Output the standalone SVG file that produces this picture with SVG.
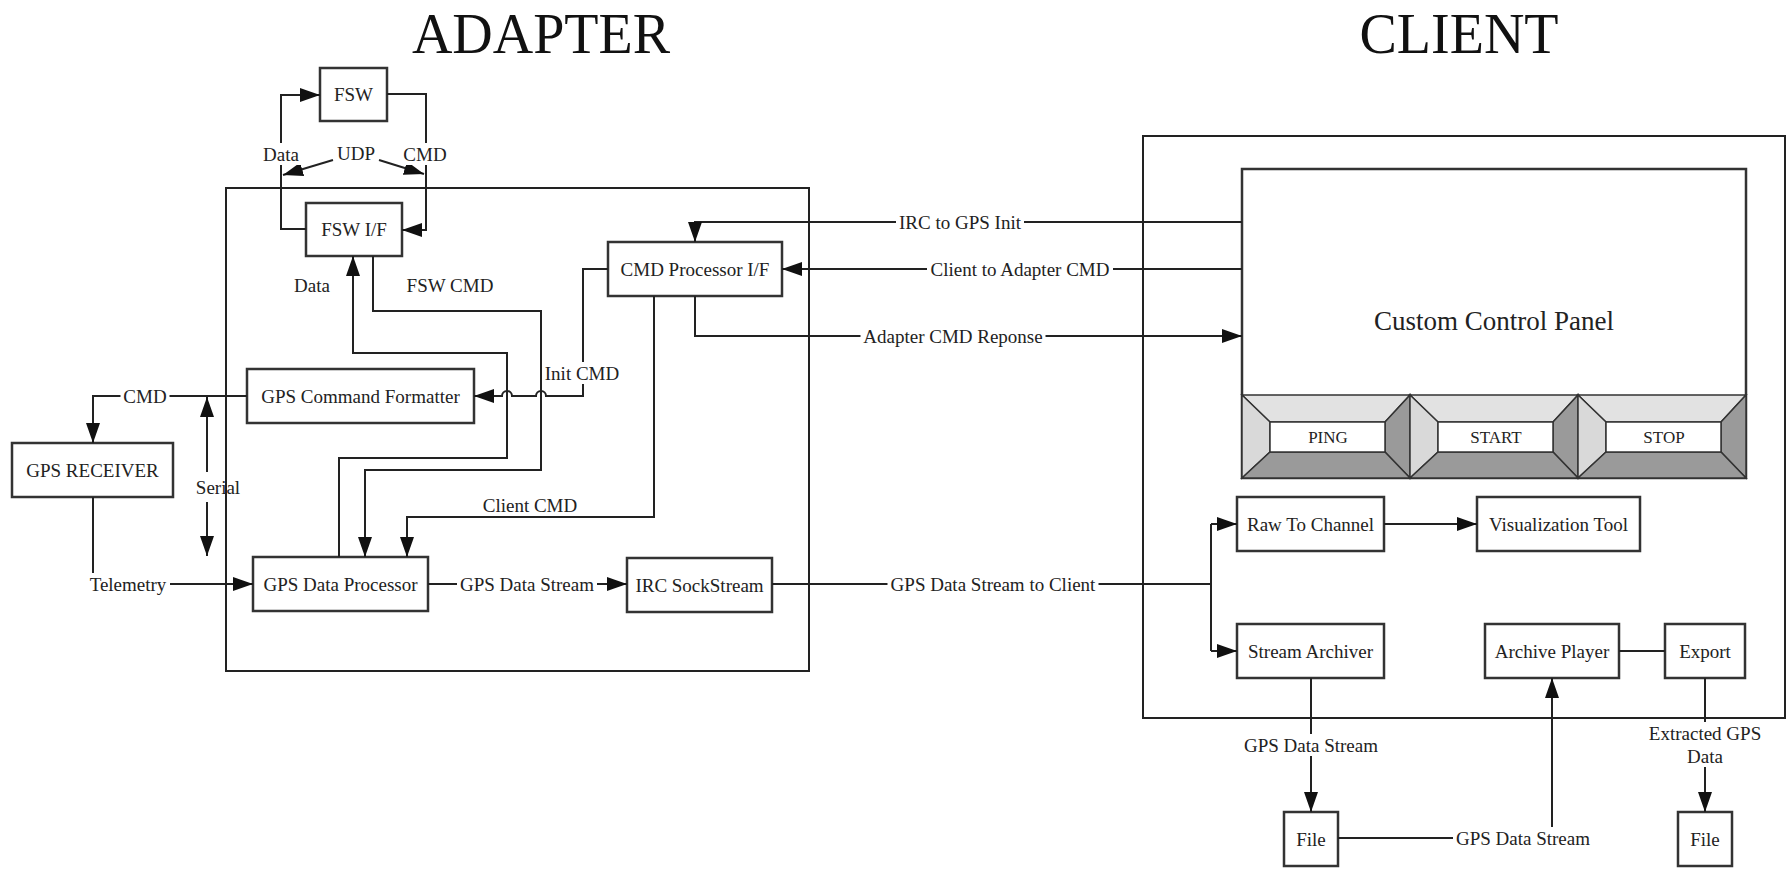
<svg xmlns="http://www.w3.org/2000/svg" xmlns:xlink="http://www.w3.org/1999/xlink" width="1787" height="874" viewBox="0 0 1787 874">
<style>
.box{fill:#fff;stroke:#333;stroke-width:2.5}
.frame{fill:none;stroke:#222;stroke-width:2}
.t{font-family:"Liberation Serif","Times New Roman",serif;font-size:19px;fill:#222;text-anchor:middle;dominant-baseline:central}
.title{font-family:"Liberation Serif","Times New Roman",serif;font-size:56px;fill:#111;text-anchor:middle}
.bg{fill:#fff;stroke:none}
.ln{fill:none;stroke:#222;stroke-width:2}
.arr{marker-end:url(#ah)}
.bv{stroke:#333;stroke-width:1.5}
.lt{fill:#e2e2e2}
.lt2{fill:#d9d9d9}
.dk{fill:#9a9a9a}
</style>
<defs>
<marker id="ah" markerUnits="userSpaceOnUse" viewBox="0 0 20 14" markerWidth="20" markerHeight="14" refX="20" refY="7" orient="auto-start-reverse">
<path d="M0,0 L20,7 L0,14 z" fill="#111"/>
</marker>
<g id="bevel">
<polygon class="bv lt" points="0,395 168,395 143,422 28,422"/>
<polygon class="bv lt2" points="0,395 28,422 28,452 0,478"/>
<polygon class="bv dk" points="168,395 168,478 143,452 143,422"/>
<polygon class="bv dk" points="0,478 168,478 143,452 28,452"/>
<rect x="28" y="422" width="115" height="30" fill="#fff" stroke="#333" stroke-width="1.5"/>
</g>
</defs>
<rect width="1787" height="874" fill="#fff"/>

<text class="title" x="541" y="53">ADAPTER</text>
<text class="title" x="1459" y="53">CLIENT</text>

<g id="adapter-frame"><rect class="frame" x="226" y="188" width="583" height="483"/></g>
<g id="client-frame"><rect class="frame" x="1143" y="136" width="642" height="582"/></g>

<g id="fsw"><rect class="box" x="320" y="68" width="67" height="53"/><text class="t" x="353.5" y="94.5">FSW</text></g>
<g id="fsw-if"><rect class="box" x="306" y="203" width="96" height="53"/><text class="t" x="354" y="229.5">FSW I/F</text></g>
<g id="cmd-proc"><rect class="box" x="608" y="242" width="174" height="54"/><text class="t" x="695" y="269">CMD Processor I/F</text></g>
<g id="gps-cmd-fmt"><rect class="box" x="247" y="369" width="227" height="54"/><text class="t" x="360.5" y="396">GPS Command Formatter</text></g>
<g id="gps-receiver"><rect class="box" x="12" y="443" width="161" height="54"/><text class="t" x="92.5" y="470">GPS RECEIVER</text></g>
<g id="gps-data-proc"><rect class="box" x="253" y="557" width="175" height="54"/><text class="t" x="340.5" y="584">GPS Data Processor</text></g>
<g id="irc-sockstream"><rect class="box" x="627" y="558" width="145" height="54"/><text class="t" x="699.5" y="585">IRC SockStream</text></g>

<g id="control-panel">
<rect class="box" x="1242" y="169" width="504" height="309"/>
<text class="t" x="1494" y="321" style="font-size:27px">Custom Control Panel</text>
</g>
<g id="btn-ping"><use xlink:href="#bevel" x="1242"/><text class="t" x="1328" y="437" style="font-size:17px">PING</text></g>
<g id="btn-start"><use xlink:href="#bevel" x="1410"/><text class="t" x="1496" y="437" style="font-size:17px">START</text></g>
<g id="btn-stop"><use xlink:href="#bevel" x="1578"/><text class="t" x="1664" y="437" style="font-size:17px">STOP</text></g>

<g id="raw-to-channel"><rect class="box" x="1237" y="497" width="147" height="54"/><text class="t" x="1310.5" y="524">Raw To Channel</text></g>
<g id="visualization-tool"><rect class="box" x="1477" y="497" width="163" height="54"/><text class="t" x="1558.5" y="524">Visualization Tool</text></g>
<g id="stream-archiver"><rect class="box" x="1237" y="624" width="147" height="54"/><text class="t" x="1310.5" y="651">Stream Archiver</text></g>
<g id="archive-player"><rect class="box" x="1485" y="624" width="134" height="54"/><text class="t" x="1552" y="651">Archive Player</text></g>
<g id="export"><rect class="box" x="1665" y="624" width="80" height="54"/><text class="t" x="1705" y="651">Export</text></g>
<g id="file-1"><rect class="box" x="1284" y="812" width="54" height="54"/><text class="t" x="1311" y="839">File</text></g>
<g id="file-2"><rect class="box" x="1678" y="812" width="54" height="54"/><text class="t" x="1705" y="839">File</text></g>

<g id="connectors">
<path class="ln arr" d="M306,229 H281 V95 H320"/>
<path class="ln arr" d="M387,94 H426 V230 H402"/>
<path class="ln arr" d="M333,160 L283,175"/>
<path class="ln arr" d="M379,160 L424,174"/>
<path class="ln arr" d="M339,557 V458 H507 V353 H353 V256"/>
<path class="ln arr" d="M373,256 V311 H541 V470 H365 V557"/>
<path class="ln arr" d="M654,296 V517 H407 V557"/>
<path class="ln arr" d="M608,269 H583 V396 H546 A5,5 0 0 0 536,396 H512 A5,5 0 0 0 502,396 H474"/>
<path class="ln arr" d="M247,396 H93 V443"/>
<path class="ln arr" d="M207,472 V397"/>
<path class="ln arr" d="M207,502 V556"/>
<path class="ln arr" d="M93,497 V584 H253"/>
<path class="ln arr" d="M428,584 H627"/>
<path class="ln arr" d="M1242,222 H695 V242"/>
<path class="ln arr" d="M1242,269 H782"/>
<path class="ln arr" d="M695,296 V336 H1242"/>
<path class="ln" d="M772,584 H1211 M1211,524 V651"/>
<path class="ln arr" d="M1211,524 H1237"/>
<path class="ln arr" d="M1211,651 H1237"/>
<path class="ln arr" d="M1384,524 H1477"/>
<path class="ln" d="M1619,651 H1665"/>
<path class="ln arr" d="M1311,678 V812"/>
<path class="ln arr" d="M1338,838 H1552 V678"/>
<path class="ln arr" d="M1705,678 V812"/>

<rect class="bg" x="260" y="143" width="42" height="22"/>
<rect class="bg" x="334" y="142" width="44" height="22"/>
<rect class="bg" x="400.5" y="143" width="49" height="22"/>
<rect class="bg" x="542" y="362" width="80" height="22"/>
<rect class="bg" x="120.5" y="385" width="49" height="22"/>
<rect class="bg" x="86" y="573" width="84" height="22"/>
<rect class="bg" x="457" y="573" width="140" height="22"/>
<rect class="bg" x="896" y="211" width="128" height="22"/>
<rect class="bg" x="927" y="258" width="186" height="22"/>
<rect class="bg" x="860.5" y="325" width="185" height="22"/>
<rect class="bg" x="887.5" y="573" width="211" height="22"/>
<rect class="bg" x="1241" y="734" width="140" height="22"/>
<rect class="bg" x="1453" y="827" width="140" height="22"/>
<rect class="bg" x="1646" y="722" width="118" height="45"/>

<text class="t" x="281" y="154">Data</text>
<text class="t" x="356" y="153">UDP</text>
<text class="t" x="425" y="154">CMD</text>
<text class="t" x="312" y="285">Data</text>
<text class="t" x="450" y="285">FSW CMD</text>
<text class="t" x="582" y="373">Init CMD</text>
<text class="t" x="145" y="396">CMD</text>
<text class="t" x="218" y="487">Serial</text>
<text class="t" x="128" y="584">Telemetry</text>
<text class="t" x="530" y="505">Client CMD</text>
<text class="t" x="527" y="584">GPS Data Stream</text>
<text class="t" x="960" y="222">IRC to GPS Init</text>
<text class="t" x="1020" y="269">Client to Adapter CMD</text>
<text class="t" x="953" y="336">Adapter CMD Reponse</text>
<text class="t" x="993" y="584">GPS Data Stream to Client</text>
<text class="t" x="1311" y="745">GPS Data Stream</text>
<text class="t" x="1523" y="838">GPS Data Stream</text>
<text class="t" x="1705" y="733">Extracted GPS</text>
<text class="t" x="1705" y="756">Data</text>
</g>
</svg>
